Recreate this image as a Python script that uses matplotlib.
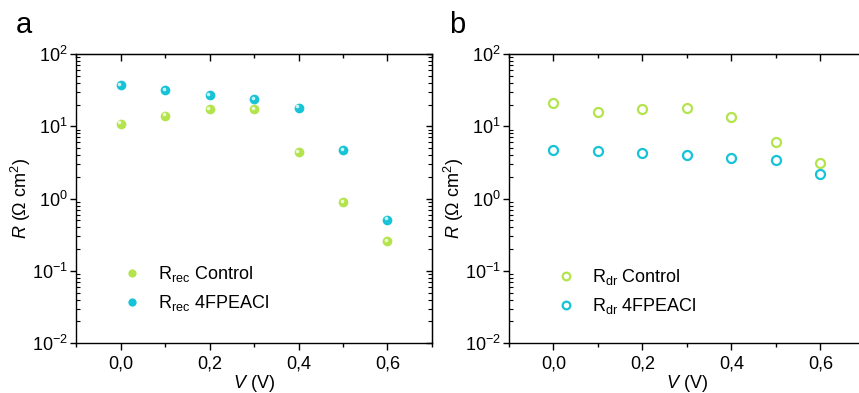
import numpy as np
import matplotlib
matplotlib.use('Agg')
import matplotlib.pyplot as plt
from matplotlib.ticker import MultipleLocator, FuncFormatter
from matplotlib.transforms import offset_copy

plt.rcParams['font.family'] = ['Liberation Sans', 'DejaVu Sans']
plt.rcParams['mathtext.fontset'] = 'custom'
plt.rcParams['mathtext.rm'] = 'Liberation Sans'
plt.rcParams['mathtext.it'] = 'Liberation Sans:italic'
plt.rcParams['mathtext.bf'] = 'Liberation Sans:bold'

# data
voltage = [0.0, 0.1, 0.2, 0.3, 0.4, 0.5, 0.6]
rrec_control = [10.9, 14.0, 17.3, 17.1, 4.35, 0.90, 0.255]
rrec_4fpeacl = [37.2, 31.4, 27.3, 23.6, 18.1, 4.65, 0.51]
rdr_control = [21.0, 15.9, 17.5, 17.7, 13.3, 6.1, 3.1]
rdr_4fpeacl = [4.65, 4.5, 4.26, 3.96, 3.64, 3.41, 2.16]

green = '#b3e44e'
cyan = '#17c3d6'
fs = 13

fig = plt.figure(figsize=(8.59, 3.93), dpi=100)
ax1 = fig.add_axes([0.0885, 0.1272, 0.4144, 0.7354])
ax2 = fig.add_axes([0.5925, 0.1272, 0.4144, 0.7354])

comma = FuncFormatter(lambda v, p: ('%.1f' % v).replace('.', ','))


def style(ax):
    ax.set_yscale('log')
    ax.set_xlim(-0.1, 0.7)
    ax.set_ylim(1e-2, 1e2)
    ax.xaxis.set_major_locator(MultipleLocator(0.2))
    ax.xaxis.set_minor_locator(MultipleLocator(0.1))
    ax.xaxis.set_major_formatter(comma)
    ax.tick_params(axis='x', which='major', direction='out', length=5, width=1, labelsize=fs, pad=4)
    ax.tick_params(axis='x', which='minor', direction='out', length=3, width=1)
    ax.tick_params(axis='y', which='major', direction='out', length=4, width=1, labelsize=fs, pad=2)
    ax.tick_params(axis='y', which='minor', direction='in', length=3, width=0.8)
    for s in ax.spines.values():
        s.set_linewidth(1)
    top = ax.secondary_xaxis('top')
    top.xaxis.set_major_locator(MultipleLocator(0.2))
    top.xaxis.set_minor_locator(MultipleLocator(0.1))
    top.tick_params(which='major', direction='in', length=5, width=1, labeltop=False)
    top.tick_params(which='minor', direction='in', length=3, width=1)
    right = ax.secondary_yaxis('right')
    right.tick_params(which='major', direction='in', length=4, width=1, labelright=False)
    right.tick_params(which='minor', direction='in', length=3, width=0.8)
    ax.set_xlabel(r'$V$ (V)', fontsize=fs, labelpad=0)
    ax.set_ylabel(r'$R$ (Ω cm$^2$)', fontsize=fs)
    ax.yaxis.set_label_coords(-0.12, 0.5)


style(ax1)
style(ax2)

ax1.plot(voltage, rrec_control, 'o', color=green, ms=7, mec='none', label=r'R$_{\mathrm{rec}}$ Control')
ax1.plot(voltage, rrec_4fpeacl, 'o', color=cyan, ms=7, mec='none', label=r'R$_{\mathrm{rec}}$ 4FPEACl')
# small highlight on the spheres
shine = offset_copy(ax1.transData, fig=fig, x=-1.2, y=1.2, units='dots')
ax1.plot(voltage, rrec_control, 'o', color='#eefbd0', ms=2.6, mec='none', transform=shine)
ax1.plot(voltage, rrec_4fpeacl, 'o', color='#c8f4fa', ms=2.6, mec='none', transform=shine)

ax2.plot(voltage, rdr_control, 'o', mfc='none', mec=green, mew=1.6, ms=6.5, label=r'R$_{\mathrm{dr}}$ Control')
ax2.plot(voltage, rdr_4fpeacl, 'o', mfc='none', mec=cyan, mew=1.6, ms=6.5, label=r'R$_{\mathrm{dr}}$ 4FPEACl')

ax1.legend(loc='upper left', bbox_to_anchor=(0.137, 0.273), frameon=False, fontsize=fs,
           borderpad=0, borderaxespad=0, handlelength=0.8, handletextpad=1.04,
           labelspacing=0.5, markerscale=0.85)
ax2.legend(loc='upper left', bbox_to_anchor=(0.14, 0.263), frameon=False, fontsize=fs,
           borderpad=0, borderaxespad=0, handlelength=0.8, handletextpad=1.04,
           labelspacing=0.5, markerscale=0.85)

fig.text(0.018, 0.915, 'a', fontsize=21)
fig.text(0.523, 0.915, 'b', fontsize=21)

fig.savefig('out.png', dpi=100)
